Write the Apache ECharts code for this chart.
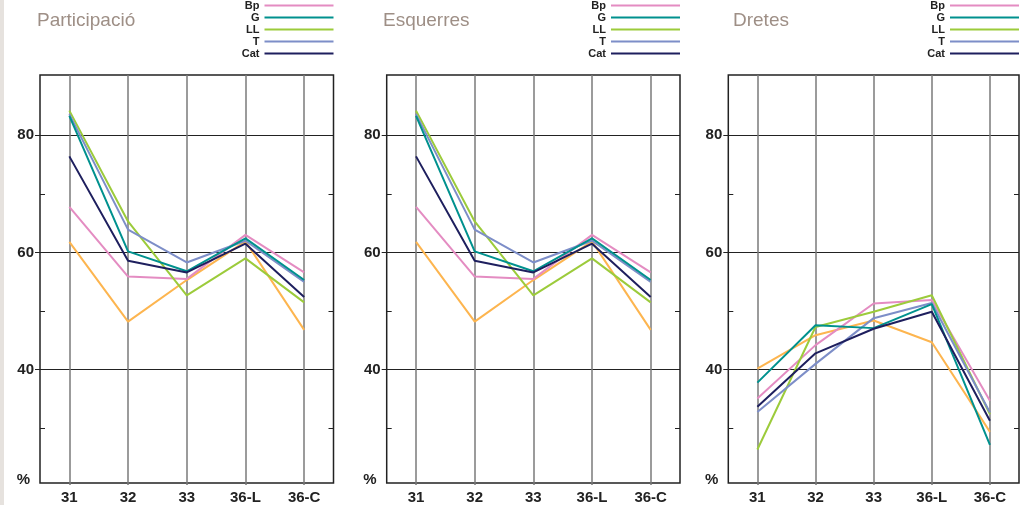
<!DOCTYPE html>
<html>
<head>
<meta charset="utf-8">
<script src="https://cdn.jsdelivr.net/npm/echarts@6/dist/echarts.min.js"></script>
<style>
  html, body { margin: 0; padding: 0; background: #ffffff; }
  #chart { width: 1023px; height: 505px; }
</style>
</head>
<body>
<div id="chart"></div>
<script>
// ---- Data ----
const categories = ['31', '32', '33', '36-L', '36-C'];
const panelTitles = ['Participació', 'Esquerres', 'Dretes'];
const legendNames = ['Bp', 'G', 'LL', 'T', 'Cat'];
const yLabelValues = [40, 60, 80];
const yMinorValues = [30, 50, 70];

// Participació
const partBp  = [67.8, 55.9, 55.5, 63.0, 56.6];
const partG   = [83.3, 60.2, 56.8, 62.4, 55.3];
const partLL  = [84.2, 65.3, 52.7, 59.0, 51.5];
const partT   = [83.6, 63.9, 58.3, 62.0, 55.0];
const partCat = [76.4, 58.6, 56.6, 61.5, 52.4];
const partOr  = [61.8, 48.2, 55.3, 61.9, 46.8];

// Esquerres
const esqBp  = [67.8, 55.9, 55.5, 63.0, 56.6];
const esqG   = [83.3, 60.2, 56.8, 62.4, 55.3];
const esqLL  = [84.2, 65.3, 52.7, 59.0, 51.5];
const esqT   = [83.6, 63.9, 58.3, 62.0, 55.0];
const esqCat = [76.4, 58.6, 56.6, 61.5, 52.4];
const esqOr  = [61.8, 48.2, 55.3, 61.9, 46.8];

// Dretes
const dreBp  = [35.1, 44.2, 51.3, 51.9, 34.7];
const dreG   = [37.8, 47.6, 47.1, 51.2, 27.2];
const dreLL  = [26.4, 47.3, 49.9, 52.7, 32.4];
const dreT   = [32.8, 41.0, 48.8, 51.4, 32.7];
const dreCat = [33.7, 42.8, 47.0, 49.9, 31.3];
const dreOr  = [40.2, 45.9, 48.4, 44.7, 29.4];

const panelData = [
  [partOr, partBp, partLL, partT, partG, partCat],
  [esqOr, esqBp, esqLL, esqT, esqG, esqCat]
];
panelData.push([dreOr, dreBp, dreLL, dreT, dreG, dreCat]);
const seriesNames = ['Altres', 'Bp', 'LL', 'T', 'G', 'Cat'];
const seriesColors = {
  'Altres': '#fdb54f',
  'Bp': '#e48cc2',
  'G': '#00918e',
  'LL': '#9ccb3b',
  'T': '#7d8ec8',
  'Cat': '#1e1f5e'
};

// ---- Layout ----
const Y_MIN = 20.68, Y_MAX = 90.28;
const grids = [
  { left: 40, right: 689.5, top: 75, bottom: 21.7 },
  { left: 386.7, right: 343, top: 75, bottom: 21.7 },
  { left: 728.3, right: 4, top: 75, bottom: 21.7 }
];
const titleLeft = [37, 383, 733];
const legendRight = [689.5, 343, 4];
const FONT = '"Liberation Sans", Arial, Helvetica, sans-serif';

const option = {
  animation: false,
  backgroundColor: '#ffffff',
  graphic: [{
    type: 'rect', left: 0, top: 0,
    shape: { width: 4, height: 505 },
    style: { fill: '#e6e2de' }
  }],
  title: panelTitles.map((t, i) => ({
    text: t, left: titleLeft[i], top: 11, padding: 0,
    textStyle: { fontFamily: FONT, fontSize: 19, fontWeight: 'normal', color: '#9e8f86' }
  })),
  legend: legendRight.map(r => ({
    data: legendNames,
    orient: 'vertical',
    right: r, top: 0, padding: 0,
    align: 'right',
    icon: 'rect',
    itemWidth: 69, itemHeight: 2, itemGap: 1,
    selectedMode: false,
    textStyle: { fontFamily: FONT, fontSize: 11, fontWeight: 'bold', color: '#222' }
  })),
  grid: grids.map(g => Object.assign({
    show: true, borderColor: '#222', borderWidth: 1.5, containLabel: false
  }, g)),
  xAxis: grids.map((g, i) => ({
    type: 'category', gridIndex: i, data: categories, boundaryGap: true,
    axisLine: { show: false },
    axisTick: { show: true, alignWithLabel: true, length: 2, lineStyle: { color: '#777', width: 1.5 } },
    axisLabel: { fontFamily: FONT, fontSize: 15, fontWeight: 'bold', color: '#222', margin: 7 },
    splitLine: { show: true, alignWithLabel: true, lineStyle: { color: '#7a7a7a', width: 1.5 } }
  })),
  yAxis: [],
  series: []
};

grids.forEach((g, i) => {
  option.yAxis.push({
    type: 'value', gridIndex: i, min: Y_MIN, max: Y_MAX, position: 'left',
    axisLine: { show: false },
    axisTick: { show: true, inside: false, length: 5, customValues: yLabelValues, lineStyle: { color: '#222' } },
    axisLabel: {
      show: true, customValues: [Y_MIN].concat(yLabelValues), margin: 6,
      fontFamily: FONT, fontSize: 15, fontWeight: 'bold', color: '#222',
      formatter: v => (v < 30 ? '{p|%}' : String(Math.round(v))),
      rich: { p: { fontFamily: FONT, fontSize: 15, fontWeight: 'bold', color: '#222', padding: [0, 4, 6, 0] } }
    },
    splitLine: { show: true, lineStyle: { color: '#222', width: 1 } }
  });
  option.yAxis.push({
    type: 'value', gridIndex: i, min: Y_MIN, max: Y_MAX, position: 'left',
    axisLine: { show: false },
    axisTick: { show: true, inside: true, length: 5, customValues: yMinorValues, lineStyle: { color: '#222' } },
    axisLabel: { show: false },
    splitLine: { show: false }
  });
  option.yAxis.push({
    type: 'value', gridIndex: i, min: Y_MIN, max: Y_MAX, position: 'right',
    axisLine: { show: false },
    axisTick: { show: true, inside: true, length: 5, customValues: yMinorValues, lineStyle: { color: '#222' } },
    axisLabel: { show: false },
    splitLine: { show: false }
  });
  panelData[i].forEach((arr, k) => {
    const name = seriesNames[k];
    option.series.push({
      type: 'line', name: name, xAxisIndex: i, yAxisIndex: i * 3,
      data: arr, symbol: 'none', smooth: false,
      color: seriesColors[name],
      itemStyle: { color: seriesColors[name] },
      lineStyle: { color: seriesColors[name], width: 2 },
      z: 3 + k
    });
  });
});

const chart = echarts.init(document.getElementById('chart'), null, { renderer: 'canvas' });
chart.setOption(option);
</script>
</body>
</html>
